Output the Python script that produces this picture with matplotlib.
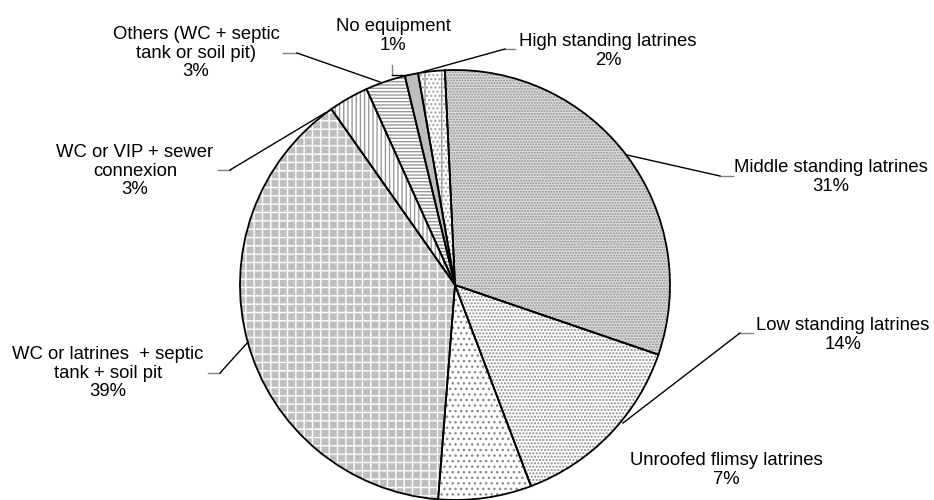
import matplotlib
matplotlib.use("Agg")
import matplotlib.pyplot as plt

# sanitation equipment shares (%), clockwise from the top
labels = ["Middle standing latrines", "Low standing latrines",
          "Unroofed flimsy latrines", "WC or latrines  + septic\ntank + soil pit",
          "WC or VIP + sewer\nconnexion", "Others (WC + septic\ntank or soil pit)",
          "No equipment", "High standing latrines"]
shares = [31, 14, 7, 39, 3, 3, 1, 2]

# look of each slice: face colour, hatch, hatch colour
faces = ["#dedede", "white", "white", "#bfbfbf", "white", "white", "#bdbdbd", "white"]
hatches = ["......", ".....", "...", "++", "||||", "-----", "", "|...."]
hatch_cols = ["#8f8f8f", "#8a8a8a", "#8a8a8a", "white", "#9a9a9a", "#9a9a9a", "#bdbdbd", "#a0a0a0"]

W, H = 934, 500
plt.rcParams['font.family'] = ['Liberation Sans', 'DejaVu Sans']
plt.rcParams['hatch.linewidth'] = 1.0


def fy(y):
    # picture rows run downwards, the axes upwards
    return H - y


fig = plt.figure(figsize=(9.34, 5.0), dpi=100)
ax = fig.add_axes([0, 0, 1, 1])

cx, cy, r = 455, fy(285), 215
wedges, _ = ax.pie(shares, startangle=92.7, counterclock=False,
                   center=(cx, cy), radius=r, frame=True,
                   wedgeprops=dict(linewidth=0))
for w, fc, h, hc in zip(wedges, faces, hatches, hatch_cols):
    w.set_facecolor(fc)
    w.set_hatch(h)
    w.set_edgecolor(hc)
    w.set_linewidth(0)

# outlines on top
ax.pie(shares, startangle=92.7, counterclock=False, center=(cx, cy),
       radius=r, frame=True,
       wedgeprops=dict(fill=False, edgecolor="black", linewidth=1.3))

ax.set_xlim(0, W)
ax.set_ylim(0, H)
ax.set_aspect('equal')
ax.axis('off')

# label text: (x centre, y centre of block) in picture pixels
pcts = ["%d%%" % s for s in shares]
label_pos = [(831, 177), (843, 335), (726, 470), (108, 373),
             (135, 171), (196, 53), (393, 36), (608, 51)]
for lab, p, (x, y) in zip(labels, pcts, label_pos):
    ax.text(x, fy(y), lab + "\n" + p, ha="center", va="center",
            fontsize=13.3, linespacing=1.12, color="black")

# leader lines: text end -> pie edge
leaders = [
    [(733, 176), (720, 176), (627, 155)],
    [(753, 333), (740, 333), (623, 423)],
    [(208, 373), (220, 373), (248, 342)],
    [(218, 170), (230, 170), (325, 113)],
    [(283, 53), (297, 53), (380, 82)],
    [(392, 65), (392, 75), (406, 75)],
    [(515, 49), (505, 49), (422, 72)],
]
for pts in leaders:
    xs = [p[0] for p in pts]
    ys = [fy(p[1]) for p in pts]
    ax.plot(xs[:2], ys[:2], color="#808080", lw=1.0)
    ax.plot(xs[1:], ys[1:], color="black", lw=1.0)

fig.savefig("out.png", dpi=100, facecolor="white")
